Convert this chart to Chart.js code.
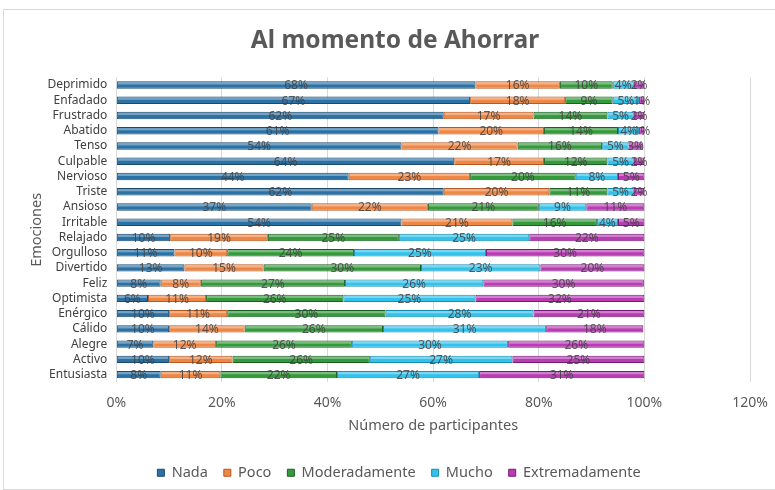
<!DOCTYPE html>
<html>
<head>
<meta charset="utf-8">
<script src="https://cdn.jsdelivr.net/npm/chart.js@4/dist/chart.umd.min.js"></script>
<style>
  html, body { margin: 0; padding: 0; background: #fff; overflow: hidden; }
  #wrap {
    position: absolute; left: 3px; top: 9px;
    width: 790px; height: 481px;
    border: 1px solid #d9d9d9; box-sizing: border-box;
  }
</style>
</head>
<body>
<div id="wrap"><canvas id="dataChart"></canvas></div>
<script>
// Categories, top to bottom
const emociones = ['Deprimido', 'Enfadado', 'Frustrado', 'Abatido', 'Tenso', 'Culpable', 'Nervioso',
    'Triste', 'Ansioso', 'Irritable', 'Relajado', 'Orgulloso', 'Divertido', 'Feliz', 'Optimista',
    'Enérgico', 'Cálido', 'Alegre', 'Activo', 'Entusiasta'];

// Percent of participants for each level
const nada           = [68, 67, 62, 61, 54, 64, 44, 62, 37, 54, 10.2, 11, 12.9, 8.4, 6, 10, 10, 7, 10, 8.4];
const poco           = [16, 18, 17, 20, 22, 17, 23, 20, 22, 21, 18.5, 10, 15, 7.6, 11, 11, 14.3, 11.9, 12, 11.3];
const moderadamente  = [10, 9, 14, 14, 16, 12, 20, 11, 21, 16, 24.8, 24, 29.8, 27.3, 26, 30, 26.2, 25.7, 26, 22.1];
const mucho          = [4, 5, 5, 4, 5, 5, 8, 5, 9, 4, 24.7, 25, 22.6, 26.2, 25, 28, 30.9, 29.6, 27, 26.9];
const extremadamente = [2, 1, 2, 1, 2.7, 2, 5, 2, 11, 5, 21.8, 30, 19.7, 30.4, 32, 21, 18.4, 25.8, 25, 31.3];

const xTicks = [0, 20, 40, 60, 80, 100, 120];

const textGray = '#595959';
const fontFam = '"Noto Sans", "Open Sans", sans-serif';

// Small highlight stripe on each bar, then the value labels
const barLook = {
    id: 'barLook',
    afterLayout(chart) {
        // title and legend sit centred on the whole frame, not on the padded area
        chart.legend.left += 15;
        chart.legend.right += 15;
        chart.titleBlock.left += 11;
        chart.titleBlock.right += 11;
    },
    afterDatasetsDraw(chart) {
        const ctx = chart.ctx;
        ctx.save();
        chart.data.datasets.forEach((ds, i) => {
            const meta = chart.getDatasetMeta(i);
            meta.data.forEach(bar => {
                const left = Math.min(bar.x, bar.base);
                const w = Math.abs(bar.x - bar.base);
                const h = bar.height;
                ctx.fillStyle = 'rgba(255,255,255,0.35)';
                ctx.fillRect(left + 1, bar.y - h / 2 + 1, Math.max(w - 2, 0), h * 0.3);
            });
        });
        ctx.font = '12px ' + fontFam;
        ctx.fillStyle = 'rgba(64,64,64,0.85)';
        ctx.textAlign = 'center';
        ctx.textBaseline = 'middle';
        chart.data.datasets.forEach((ds, i) => {
            const meta = chart.getDatasetMeta(i);
            meta.data.forEach((bar, j) => {
                const v = ds.data[j];
                ctx.fillText(Math.round(v) + '%', (bar.x + bar.base) / 2, bar.y + 1);
            });
        });
        ctx.restore();
    }
};

function makeSet(label, data, fill, border) {
    return {
        label: label,
        data: data,
        backgroundColor: fill,
        borderColor: border,
        borderWidth: 1,
        borderSkipped: false,
        barPercentage: 0.48,
        categoryPercentage: 1
    };
}

new Chart(document.getElementById('dataChart').getContext('2d'), {
    type: 'bar',
    data: {
        labels: emociones,
        datasets: [
            makeSet('Nada', nada, '#2a72a6', '#1b4a6d'),
            makeSet('Poco', poco, '#ee8746', '#b45a22'),
            makeSet('Moderadamente', moderadamente, '#359a3c', '#1d5e22'),
            makeSet('Mucho', mucho, '#33c2ec', '#198db0'),
            makeSet('Extremadamente', extremadamente, '#b83cb4', '#761c74')
        ]
    },
    options: {
        indexAxis: 'y',
        responsive: true,
        maintainAspectRatio: false,
        animation: false,
        layout: { padding: { left: 14, right: 42, top: 0, bottom: -1 } },
        plugins: {
            title: {
                display: true,
                text: 'Al momento de Ahorrar',
                color: textGray,
                font: { family: fontFam, size: 24.5, weight: 'bold' },
                padding: { top: 16, bottom: 22 }
            },
            legend: {
                position: 'bottom',
                labels: {
                    color: textGray,
                    font: { family: fontFam, size: 14.5 },
                    boxWidth: 7,
                    boxHeight: 7,
                    padding: 16
                }
            },
            tooltip: { enabled: false }
        },
        scales: {
            x: {
                stacked: true,
                min: 0,
                max: 120,
                afterBuildTicks(axis) { axis.ticks = xTicks.map(v => ({ value: v })); },
                ticks: {
                    color: textGray,
                    font: { family: fontFam, size: 14 },
                    padding: 12,
                    callback: v => v + '%'
                },
                grid: { color: '#d9d9d9', drawTicks: false },
                border: { display: false },
                title: {
                    display: true,
                    text: 'Número de participantes',
                    color: textGray,
                    font: { family: fontFam, size: 14.5 },
                    padding: { top: -6, bottom: 15 }
                }
            },
            y: {
                stacked: true,
                ticks: {
                    color: '#404040',
                    font: { family: fontFam, size: 12 },
                    padding: 9,
                    autoSkip: false
                },
                grid: { display: false, drawTicks: false },
                border: { display: false },
                title: {
                    display: true,
                    text: 'Emociones',
                    color: textGray,
                    font: { family: fontFam, size: 14.5 },
                    padding: { top: 10, bottom: -7 }
                }
            }
        }
    },
    plugins: [barLook]
});
</script>
</body>
</html>
